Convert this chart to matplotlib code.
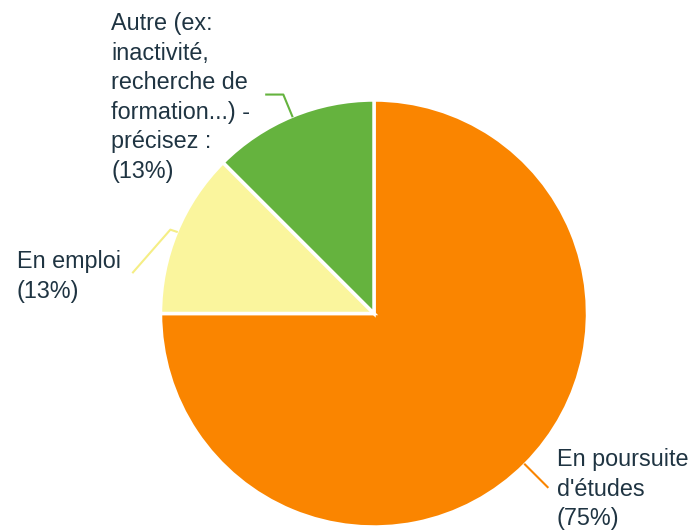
import numpy as np
import matplotlib
matplotlib.use("Agg")
import matplotlib.pyplot as plt

labels = ["En poursuite\nd'études\n(75%)", "En emploi\n(13%)",
          "Autre (ex:\ninactivité,\nrecherche de\nformation...) -\nprécisez :\n(13%)"]
values = [6, 1, 1]
colors = ["#FA8500", "#FAF59D", "#65B33E"]

W, H = 696, 530
fig = plt.figure(figsize=(W / 100, H / 100), dpi=100)
cx, cy, R = 374, 313.5, 213.5
ax = fig.add_axes([(cx - R) / W, (H - cy - R) / H, 2 * R / W, 2 * R / H])
wedges, _ = ax.pie(values, colors=colors, startangle=90, counterclock=False,
                   radius=1, wedgeprops=dict(edgecolor="white", linewidth=2.5))
ax.set_xlim(-1, 1)
ax.set_ylim(-1, 1)
ax.set_aspect("equal")
ax.axis("off")

txt_color = "#1f3442"
fs = 16.8
lh = 29.6

def px(x, y):
    return (x / W, 1 - y / H)

# label positions (left x, first baseline y) in pixels
label_pos = [(557, 466), (17, 268), (111, 30)]
for lab, (lx, ly) in zip(labels, label_pos):
    for i, line in enumerate(lab.split("\n")):
        fig.text(*px(lx, ly + i * lh), line, fontsize=fs, color=txt_color,
                 family=["Liberation Sans", "DejaVu Sans"], va="baseline", ha="left")

# leader lines
def mid(w):
    a = np.deg2rad((w.theta1 + w.theta2) / 2)
    return np.cos(a), np.sin(a)

# orange: radial outward
c, s = mid(wedges[0])
ax.plot([c, c * 1.15], [s, s * 1.15], color=colors[0], lw=1.5, clip_on=False)
# yellow: short horizontal then diagonal down-left
c, s = mid(wedges[1])
x1, y1 = c - 0.03, s + 0.01
ax.plot([c, x1, x1 - 0.175, ], [s, y1, y1 - 0.2], color="#F5EE85", lw=1.5, clip_on=False)
# green: radial then horizontal left
c, s = mid(wedges[2])
x1, y1 = c * 1.11, s * 1.11
ax.plot([c, x1, x1 - 0.08], [s, y1, y1], color=colors[2], lw=1.5, clip_on=False)

fig.savefig("out.png", dpi=100, facecolor="white")
